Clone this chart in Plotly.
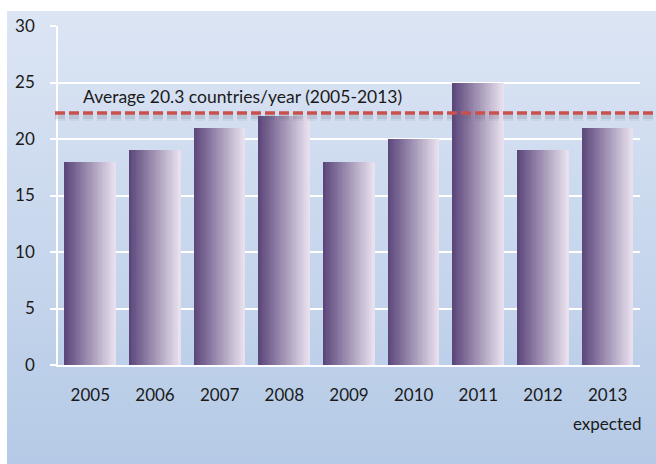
import plotly.graph_objects as go
import urllib.parse

# ---- data ----
years = ["2005", "2006", "2007", "2008", "2009", "2010", "2011", "2012", "2013"]
countries = [18, 19, 21, 22, 18, 20, 25, 19, 21]
avg_line_value = 22.3
avg_label = "Average 20.3 countries/year (2005-2013)"
y_ticks = [0, 5, 10, 15, 20, 25, 30]

W, H = 656, 464
L, R, T, B = 58, 16, 26, 99
FONT = "Lato"
pos = list(range(len(years)))

fig = go.Figure()

# bars with horizontal gradient built from narrow slices
bar_w = 0.79
N = 30
c0 = (0x5c, 0x47, 0x7b)
c1 = (0xe8, 0xe0, 0xee)
for i in range(N):
    t = i / (N - 1)
    col = tuple(round(a + (b - a) * t) for a, b in zip(c0, c1))
    fig.add_trace(go.Bar(
        x=pos, y=countries,
        width=bar_w / N * 1.15,
        offset=-bar_w / 2 + i * bar_w / N,
        marker=dict(color="rgb(%d,%d,%d)" % col, line=dict(width=0)),
        hoverinfo="skip", showlegend=False,
    ))

# background gradient panel
svg = ('<svg xmlns="http://www.w3.org/2000/svg" width="10" height="100" preserveAspectRatio="none">'
       '<defs><linearGradient id="g" x1="0" y1="0" x2="0" y2="1">'
       '<stop offset="0" stop-color="#dce5f4"/><stop offset="1" stop-color="#b5cae6"/>'
       '</linearGradient></defs><rect width="10" height="100" fill="url(#g)"/></svg>')
src = "data:image/svg+xml;charset=utf-8," + urllib.parse.quote(svg)
pw, ph = W - L - R, H - T - B
px = lambda x: (x - L) / pw
py = lambda y: (H - B - y) / ph
fig.add_layout_image(dict(
    source=src, xref="paper", yref="paper",
    x=px(7), y=py(11), sizex=px(656) - px(7), sizey=py(11) - py(464),
    xanchor="left", yanchor="top", sizing="stretch", layer="below",
))

# dashed average line with soft shadow
for w, c in [(8, "rgba(90,90,110,0.08)"), (4, "rgba(90,90,110,0.14)")]:
    fig.add_shape(type="line", xref="paper", yref="y",
                  x0=px(55), x1=px(656), y0=avg_line_value - 0.35, y1=avg_line_value - 0.35,
                  line=dict(color=c, width=w, dash="10px,4px"))
fig.add_shape(type="line", xref="paper", yref="y",
              x0=px(55), x1=px(656), y0=avg_line_value, y1=avg_line_value,
              line=dict(color="#c9504c", width=3.5, dash="10px,4px"))

fig.add_annotation(text=avg_label, xref="paper", yref="paper", x=px(81), y=py(96),
                   xanchor="left", yanchor="middle", showarrow=False,
                   font=dict(family=FONT, size=17.5, color="#1a1a1a"))
fig.add_annotation(text="expected", xref="x", yref="paper", x=pos[-1], y=py(423),
                   xanchor="center", yanchor="middle", showarrow=False,
                   font=dict(family=FONT, size=17, color="#1a1a1a"))

fig.update_layout(
    width=W, height=H, margin=dict(l=L, r=R, t=T, b=B, autoexpand=False),
    paper_bgcolor="white", plot_bgcolor="rgba(0,0,0,0)",
    barmode="overlay", bargap=0, showlegend=False,
    font=dict(family=FONT, size=17, color="#1a1a1a"),
)
fig.update_xaxes(range=[-0.5, len(years) - 0.5], tickvals=pos, ticktext=years,
                 showgrid=False, showline=True, linecolor="white", zeroline=False,
                 linewidth=2, ticks="", ticklabelstandoff=14, automargin=False,
                 tickfont=dict(size=17))
fig.update_yaxes(range=[0, 30], tickvals=y_ticks, showgrid=True, gridcolor="white",
                 gridwidth=1.5, showline=True, linecolor="white", linewidth=1.5,
                 ticks="outside", ticklen=6, tickcolor="white", tickwidth=1.5,
                 ticklabelstandoff=12, zeroline=False, automargin=False,
                 tickfont=dict(size=17))

fig.write_html("out.html", config={"displayModeBar": False},
               post_script="document.body.style.margin='0';document.body.style.overflow='hidden';")
